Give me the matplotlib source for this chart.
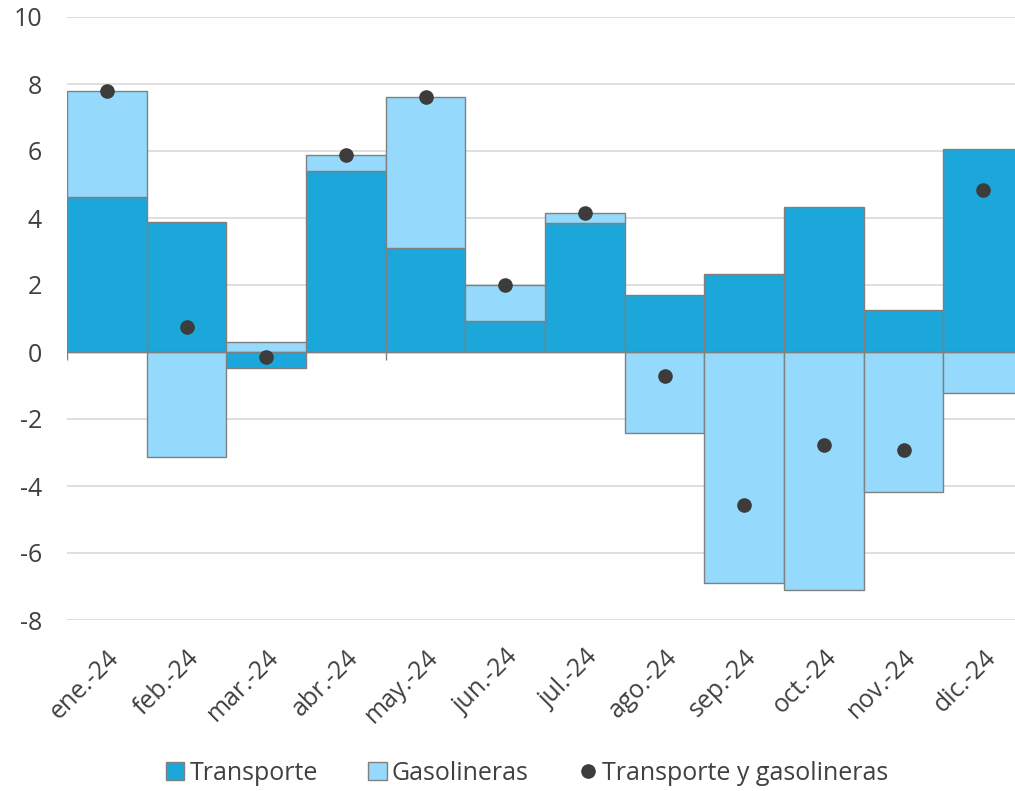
import matplotlib
matplotlib.use("Agg")
import matplotlib.pyplot as plt
import numpy as np

categories = ["ene.-24", "feb.-24", "mar.-24", "abr.-24", "may.-24", "jun.-24",
              "jul.-24", "ago.-24", "sep.-24", "oct.-24", "nov.-24", "dic.-24"]
transporte = [4.62, 3.89, -0.47, 5.39, 3.09, 0.92, 3.86, 1.69, 2.33, 4.32, 1.26, 6.05]
gasolineras = [3.16, -3.14, 0.31, 0.49, 4.52, 1.09, 0.29, -2.41, -6.89, -7.10, -4.18, -1.22]
total = [7.78, 0.75, -0.15, 5.88, 7.61, 2.01, 4.15, -0.72, -4.57, -2.78, -2.92, 4.83]
yticks = [-8, -6, -4, -2, 0, 2, 4, 6, 8, 10]

plt.rcParams['font.family'] = ['Open Sans', 'DejaVu Sans']
c_trans = "#1BA7DA"
c_gas = "#95DAFC"
c_edge = "#808080"
c_dot = "#3C3C3C"
c_text = "#404040"
FS = 18

fig = plt.figure(figsize=(10.15, 7.91), dpi=100)
ax = fig.add_axes([67/1015, 1 - 620/791, 956/1015, (620-17)/791])

x = np.arange(len(categories))
tr = np.array(transporte)
gs = np.array(gasolineras)
bottom_gas = np.where(gs >= 0, np.maximum(tr, 0), np.minimum(tr, 0))

h_tr = ax.bar(x, tr, width=1.0, color=c_trans, edgecolor=c_edge, linewidth=1.0,
              label="Transporte", zorder=2)
h_gs = ax.bar(x, gs, width=1.0, bottom=bottom_gas, color=c_gas, edgecolor=c_edge,
              linewidth=1.0, label="Gasolineras", zorder=2)
h_dot, = ax.plot(x, total, linestyle="none", marker="o", markersize=9.5, color=c_dot,
                 label="Transporte y gasolineras", zorder=4)

ax.set_xlim(-0.5, len(categories) - 0.5)
ax.set_ylim(-8, 10)
ax.set_yticks(yticks)
ax.set_yticklabels([str(v) for v in yticks], fontsize=FS, color=c_text)
ax.yaxis.grid(True, color="#D9D9D9", linewidth=1.2, zorder=0)
ax.set_axisbelow(True)
ax.tick_params(axis="y", length=0, pad=18)

ax.set_xticks(x)
ax.set_xticklabels(categories, rotation=45, ha="right", rotation_mode="anchor",
                   fontsize=FS, color=c_text)
ax.tick_params(axis="x", length=0, pad=18)

# zero line and small category boundary ticks
ax.axhline(0, color=c_edge, linewidth=1.0, zorder=3)
ax.vlines([-0.5, 3.5, 7.5, 11.5], -0.25, 0, color=c_edge, linewidth=1.0, zorder=1)

for s in ax.spines.values():
    s.set_visible(False)

fig.legend(handles=[h_tr, h_gs, h_dot], loc="center",
           bbox_to_anchor=(527/1015, 1 - 773/791), ncol=3,
           frameon=False, fontsize=FS, handlelength=0.75, handleheight=0.75,
           handletextpad=0.2, columnspacing=2.0, labelcolor=c_text,
           borderpad=0, borderaxespad=0)

fig.savefig("out.png", dpi=100)
